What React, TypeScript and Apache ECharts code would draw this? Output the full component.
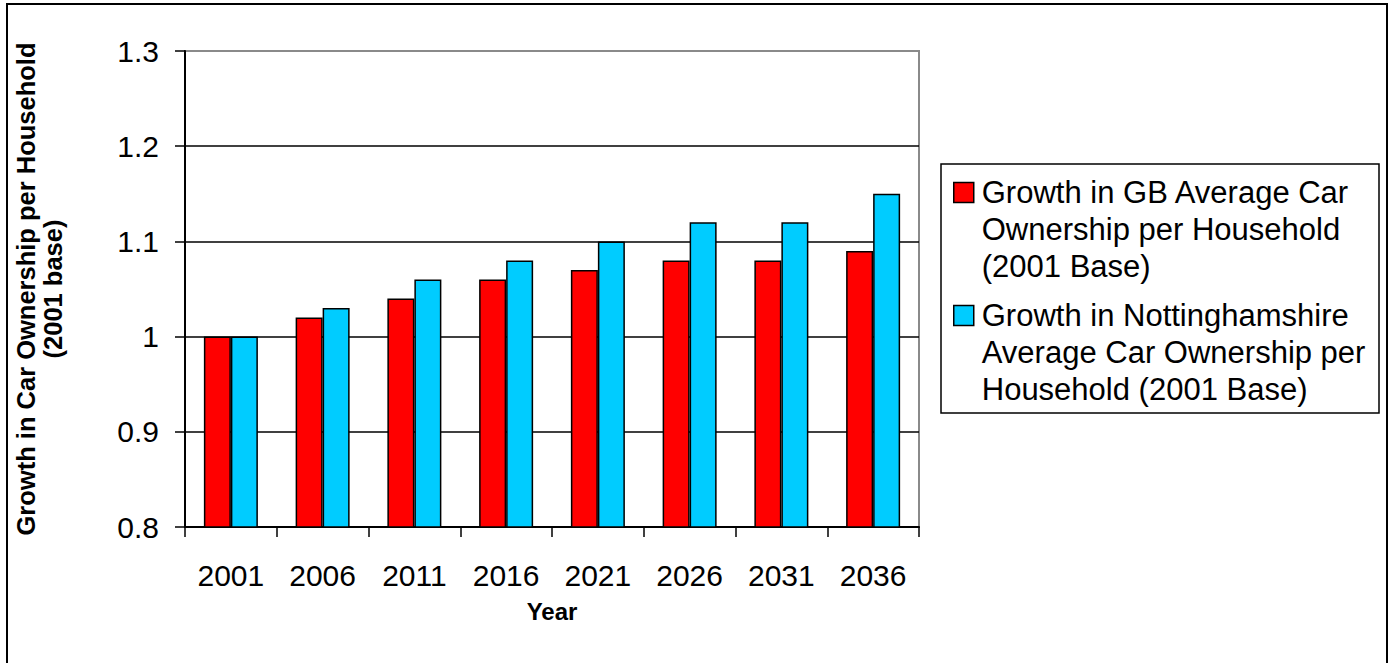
import React, { useEffect, useRef } from "react";
import * as echarts from "echarts";

const years = ["2001", "2006", "2011", "2016", "2021", "2026", "2031", "2036"];
const gbValues = [1.0, 1.02, 1.04, 1.06, 1.07, 1.08, 1.08, 1.09];
const nottsValues = [1.0, 1.03, 1.06, 1.08, 1.1, 1.12, 1.12, 1.15];
const seriesNames = [
  "Growth in GB Average Car Ownership per Household (2001 Base)",
  "Growth in Nottinghamshire Average Car Ownership per Household (2001 Base)",
];
const legendLines = [
  ["Growth in GB Average Car", "Ownership per Household", "(2001 Base)"],
  ["Growth in Nottinghamshire", "Average Car Ownership per", "Household (2001 Base)"],
];
const yAxisTitle = "Growth in Car Ownership per Household\n(2001 base)";
const xAxisTitle = "Year";

const FONT = "'Liberation Sans', Arial, sans-serif";
const LH = 37;

export default function App() {
  const ref = useRef<HTMLDivElement>(null);
  useEffect(() => {
    if (!ref.current) return;
    const chart = echarts.init(ref.current, null, { renderer: "svg" });
    const legendFor = (idx: number, top: number) => ({
      show: true,
      orient: "vertical",
      left: 953,
      top,
      padding: 0,
      data: [seriesNames[idx]],
      selectedMode: false,
      icon: "rect",
      itemWidth: 20,
      itemHeight: 20,
      itemStyle: { borderColor: "#000", borderWidth: 1.5 },
      // two leading empty lines keep the icon level with the first text line
      formatter: () => "\n\n" + legendLines[idx].join("\n"),
      textStyle: {
        fontFamily: FONT,
        fontSize: 31,
        color: "#000",
        lineHeight: LH,
        padding: [0, 0, 0, 3],
      },
    });
    chart.setOption({
      animation: false,
      backgroundColor: "#fff",
      textStyle: { fontFamily: FONT },
      grid: {
        left: 185,
        top: 51,
        width: 734,
        height: 476,
        show: true,
        borderColor: "#8a8a8a",
        borderWidth: 2,
        containLabel: false,
      },
      legend: [legendFor(0, 100), legendFor(1, 223)],
      graphic: [
        {
          type: "rect",
          silent: true,
          z: -1,
          shape: { x: 7, y: 4, width: 1380, height: 720 },
          style: { fill: "none", stroke: "#000", lineWidth: 2 },
        },
        {
          type: "rect",
          silent: true,
          shape: { x: 941, y: 164, width: 438, height: 249 },
          style: { fill: "none", stroke: "#000", lineWidth: 1.5 },
        },
      ],
      xAxis: {
        type: "category",
        data: years,
        name: xAxisTitle,
        nameLocation: "middle",
        nameGap: 72,
        nameTextStyle: { fontFamily: FONT, fontSize: 24, fontWeight: "bold", color: "#000" },
        axisLine: { show: true, lineStyle: { color: "#000", width: 2 } },
        axisTick: { show: true, length: 10, lineStyle: { color: "#000", width: 1.5 } },
        axisLabel: { interval: 0, margin: 33, fontFamily: FONT, fontSize: 30, color: "#000" },
        splitLine: { show: false },
      },
      yAxis: {
        type: "value",
        min: 0.8,
        max: 1.3,
        interval: 0.1,
        name: yAxisTitle,
        nameLocation: "middle",
        nameRotate: 90,
        nameGap: 119,
        nameTextStyle: {
          fontFamily: FONT,
          fontSize: 25.5,
          fontWeight: "bold",
          color: "#000",
          lineHeight: 27,
        },
        axisLine: { show: true, lineStyle: { color: "#000", width: 2 } },
        axisTick: { show: true, length: 10, lineStyle: { color: "#000", width: 1.5 } },
        axisLabel: {
          margin: 26,
          fontFamily: FONT,
          fontSize: 30,
          color: "#000",
          formatter: (v: number) => String(Math.round(v * 10) / 10),
        },
        splitLine: {
          show: true,
          showMinLine: false,
          showMaxLine: false,
          lineStyle: { color: "#000", width: 1.5 },
        },
      },
      series: [
        {
          name: seriesNames[0],
          type: "bar",
          data: gbValues,
          barWidth: 27,
          barGap: "0%",
          itemStyle: { color: "#FF0000", borderColor: "#000", borderWidth: 1.5 },
        },
        {
          name: seriesNames[1],
          type: "bar",
          data: nottsValues,
          barWidth: 27,
          barGap: "0%",
          itemStyle: { color: "#00CCFF", borderColor: "#000", borderWidth: 1.5 },
        },
      ],
    });
    return () => chart.dispose();
  }, []);
  return (
    <div
      ref={ref}
      style={{ position: "absolute", left: 0, top: 0, width: 1390, height: 663, background: "#fff" }}
    />
  );
}
